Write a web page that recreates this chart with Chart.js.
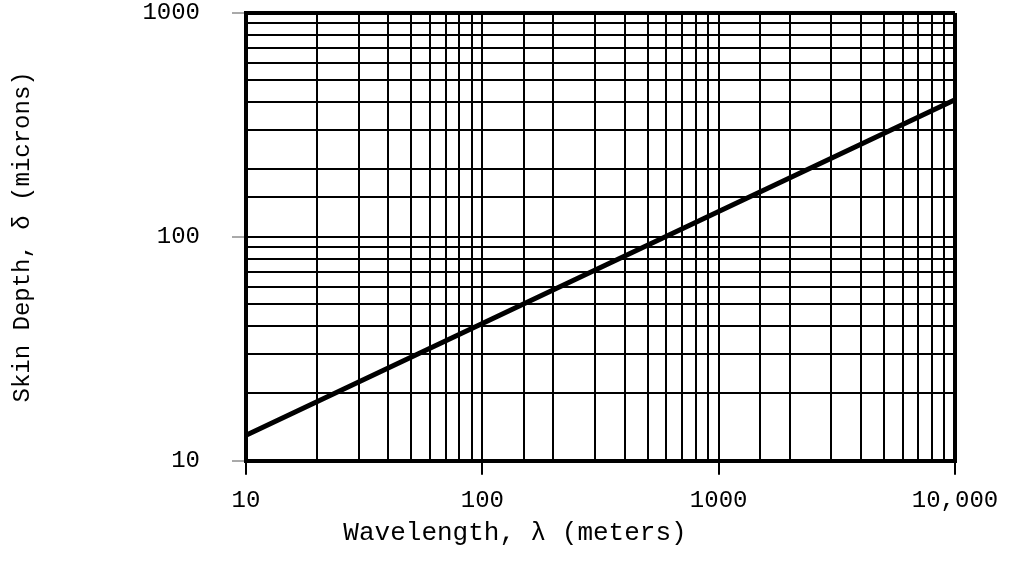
<html lang="en">

<head>
  <meta charset="UTF-8">
  <script src="https://cdn.jsdelivr.net/npm/chart.js@4.4.1/dist/chart.umd.min.js"></script>
  <title>Skin Depth vs Wavelength</title>
  <style>
    html, body { margin: 0; padding: 0; background: #fff; }
  </style>
</head>

<body>
  <canvas id="myChart" width="1017" height="564"></canvas>
  <script>
    // wavelength (meters) and skin depth (microns)
    const wavelengths = [10, 100, 1000, 10000];
    const skinDepths = [13, 41, 130, 410];

    const xTickValues = [10, 100, 1000, 10000];
    const xTickLabels = ['10', '100', '1000', '10,000'];
    const yTickValues = [10, 100, 1000];
    const yTickLabels = ['10', '100', '1000'];

    const FONT = 'Liberation Mono';

    function isEdge(value, min, max) {
      return value === min || value === max;
    }

    const ctx = document.getElementById('myChart').getContext('2d');
    const myChart = new Chart(ctx, {
      type: 'line',
      data: {
        datasets: [{
          data: wavelengths.map((w, i) => ({ x: w, y: skinDepths[i] })),
          borderColor: '#000',
          borderWidth: 5,
          pointRadius: 0,
          tension: 0
        }]
      },
      options: {
        responsive: false,
        animation: false,
        layout: {
          padding: { top: 13, right: 0, left: 13, bottom: 0 }
        },
        plugins: {
          legend: { display: false },
          tooltip: { enabled: false },
          title: {
            display: true,
            position: 'bottom',
            text: 'Wavelength, \u03bb (meters)',
            color: '#000',
            font: { family: FONT, size: 26, weight: 'normal' },
            padding: { top: 0, bottom: 15 }
          }
        },
        scales: {
          x: {
            type: 'logarithmic',
            min: 10,
            max: 10000,
            afterFit: s => { s.height = 57; s.paddingRight = 62; },
            border: { color: '#000', width: 4 },
            grid: {
              color: '#000',
              lineWidth: c => isEdge(c.tick && c.tick.value, 10, 10000) ? 4 : 2,
              tickLength: 14,
              tickWidth: 2,
              tickColor: c => xTickValues.includes(c.tick && c.tick.value) ? '#000' : 'rgba(0,0,0,0)'
            },
            ticks: {
              autoSkip: false,
              maxRotation: 0,
              padding: 11,
              color: '#000',
              font: { family: FONT, size: 24 },
              callback: v => {
                const i = xTickValues.indexOf(v);
                return i >= 0 ? xTickLabels[i] : '';
              }
            }
          },
          y: {
            type: 'logarithmic',
            min: 10,
            max: 1000,
            afterFit: s => { s.width = 233; s.paddingTop = 0; s.paddingBottom = 0; },
            border: { color: '#000', width: 4 },
            grid: {
              color: '#000',
              lineWidth: c => isEdge(c.tick && c.tick.value, 10, 1000) ? 4 : 2,
              tickLength: 14,
              tickWidth: 1,
              tickColor: c => yTickValues.includes(c.tick && c.tick.value) ? '#555' : 'rgba(0,0,0,0)'
            },
            ticks: {
              autoSkip: false,
              padding: 32,
              color: '#000',
              font: { family: FONT, size: 24 },
              callback: v => {
                const i = yTickValues.indexOf(v);
                return i >= 0 ? yTickLabels[i] : '';
              }
            },
            title: {
              display: true,
              text: 'Skin Depth, \u03b4 (microns)',
              color: '#000',
              font: { family: FONT, size: 24 },
              padding: { top: -5, bottom: 0 }
            }
          }
        }
      }
    });
  </script>
</body>

</html>
